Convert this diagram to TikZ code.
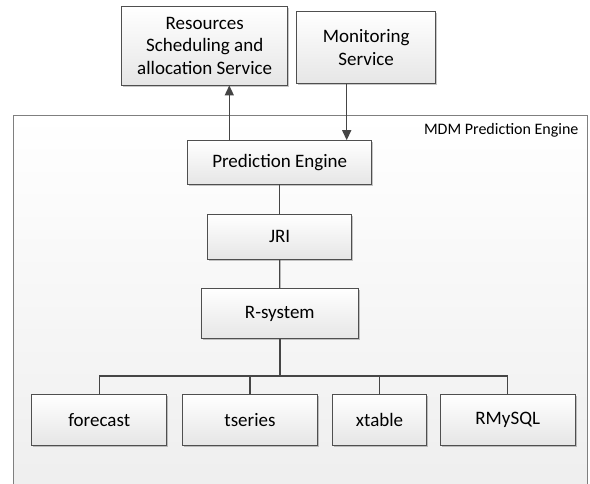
\documentclass[tikz,border=0pt]{standalone}
\usepackage{fontspec}
\setmainfont{Carlito}
\usetikzlibrary{arrows.meta,shadows}
\definecolor{boxline}{HTML}{4F4F4F}
\definecolor{conn}{HTML}{454545}
\definecolor{outerline}{HTML}{7F7F7F}
\definecolor{boxbot}{HTML}{E6E6E6}
\definecolor{outerbot}{HTML}{EDEDED}
\begin{document}
\begin{tikzpicture}[x=1pt,y=-1pt,
  box/.style={draw=boxline, line width=0.9pt, top color=white, bottom color=boxbot,
    inner sep=0pt, align=center, font=\fontsize{19}{22.8}\selectfont,
    drop shadow={shadow xshift=1.6pt, shadow yshift=-1.6pt, fill=black, opacity=0.22}},
  conn/.style={draw=conn, line width=1.4pt},
  arr/.style={conn, -{Triangle[width=9pt,length=10pt]}},
]
\clip (0,0) rectangle (590,483);
% outer container
\draw[draw=outerline, line width=0.9pt, top color=white, bottom color=outerbot]
  (13.3,115) rectangle (587.3,520);
\node[anchor=east, font=\fontsize{16}{19}\selectfont] (lbl) at (582,130.7) {MDM Prediction Engine};

\node[box, minimum width=166pt, minimum height=78.3pt] (res) at (204.7,45.8)
  {Resources\\Scheduling and\\allocation Service};
\node[box, minimum width=139pt, minimum height=71.6pt] (mon) at (366.2,47.5)
  {Monitoring\\Service};

\node[box, minimum width=184pt, minimum height=43.3pt] (pe) at (279.7,162.3) {Prediction Engine};
\node[box, minimum width=144pt, minimum height=45.3pt] (jri) at (279.7,236.7) {JRI};
\node[box, minimum width=157.7pt, minimum height=50.4pt] (rsys) at (279.8,313.5) {R-system};

\node[box, minimum width=135pt, minimum height=50.7pt] (fc) at (99.2,419.7) {forecast};
\node[box, minimum width=135.4pt, minimum height=50.7pt] (ts) at (250,419.7) {tseries};
\node[box, minimum width=94.4pt, minimum height=50.7pt] (xt) at (379.5,419.7) {xtable};
\node[box, minimum width=135.3pt, minimum height=50.7pt] (rm) at (507.7,419.7) {RMySQL};

\coordinate (bus) at (279.8,376);

% arrows
\draw[arr] (pe.north -| 229.3,0) -- (res.south -| 229.3,0);
\draw[arr] (mon.south -| 346.7,0) -- (pe.north -| 346.7,0);

% connectors
\draw[conn] (pe) -- (jri);
\draw[conn] (jri) -- (rsys);
\draw[conn] (rsys.south) -- (bus);
\draw[conn] (bus) -| (fc.north);
\draw[conn] (bus) -| (ts.north);
\draw[conn] (bus) -| (xt.north);
\draw[conn] (bus) -| (rm.north);
\end{tikzpicture}
\end{document}
